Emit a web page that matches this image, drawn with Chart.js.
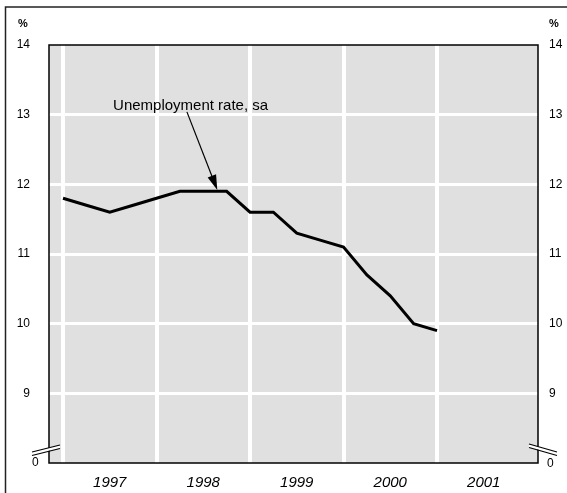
<!DOCTYPE html>
<html>
<head>
<meta charset="utf-8">
<script src="https://cdn.jsdelivr.net/npm/chart.js@4.4.1/dist/chart.umd.min.js"></script>
<style>
html,body{margin:0;padding:0;background:#fff;}
#wrap{width:567px;height:493px;position:relative;}
</style>
</head>
<body>
<div id="wrap"><canvas id="c" width="567" height="493"></canvas></div>
<script>
// Quarter index (0 = start of 1997), unemployment rate (%)
const quarters = [0,1,2,3,4,5,6,7,8,9,10,11,12,13,14,15,16];
const unemployment = [11.8,11.7,11.6,11.7,11.8,11.9,11.9,11.9,11.6,11.6,11.3,11.2,11.1,10.7,10.4,10.0,9.9];
const years = ['1997','1998','1999','2000','2001'];
const yTicks = [8,9,10,11,12,13,14];
const yTickLabels = ['0','9','10','11','12','13','14'];
const seriesLabel = 'Unemployment rate, sa';
const unitLabel = '%';

const FONT = '"Liberation Sans", Arial, sans-serif';

const decor = {
  id: 'decor',
  beforeDraw(chart) {
    const {ctx, chartArea: a} = chart;
    ctx.save();
    ctx.fillStyle = '#e0e0e0';
    ctx.fillRect(a.left, a.top, a.right - a.left, a.bottom - a.top);
    ctx.restore();
  },
  afterDraw(chart) {
    const {ctx, chartArea: a} = chart;
    const xs = chart.scales.x, ys = chart.scales.y;
    ctx.save();
    // outer frame
    ctx.strokeStyle = '#222';
    ctx.lineWidth = 1.5;
    ctx.beginPath();
    ctx.moveTo(5.5, 600);
    ctx.lineTo(5.5, 7);
    ctx.lineTo(600, 7);
    ctx.stroke();
    // plot border
    ctx.strokeStyle = '#000';
    ctx.lineWidth = 1.5;
    ctx.strokeRect(a.left, a.top, a.right - a.left, a.bottom - a.top);
    // unit labels
    ctx.fillStyle = '#000';
    ctx.font = 'bold 11px ' + FONT;
    ctx.textBaseline = 'middle';
    ctx.textAlign = 'left';
    ctx.fillText(unitLabel, 18, 24);
    ctx.fillText(unitLabel, 549, 24);
    // zero labels
    ctx.font = '12px ' + FONT;
    const y0 = ys.getPixelForValue(8);
    ctx.fillText(yTickLabels[0], 32, y0);
    ctx.fillText(yTickLabels[0], 547, y0 + 1);
    // axis breaks
    function brk(x1, y1, x2, y2) {
      ctx.fillStyle = '#fff';
      ctx.beginPath();
      ctx.moveTo(x1, y1); ctx.lineTo(x2, y2); ctx.lineTo(x2, y2 + 3); ctx.lineTo(x1, y1 + 3); ctx.closePath();
      ctx.fill();
      ctx.strokeStyle = '#000';
      ctx.lineWidth = 1.2;
      ctx.beginPath();
      ctx.moveTo(x1, y1); ctx.lineTo(x2, y2);
      ctx.moveTo(x1, y1 + 3.5); ctx.lineTo(x2, y2 + 3.5);
      ctx.stroke();
    }
    brk(32, y0 - 11, 60, y0 - 18);
    brk(529, y0 - 19, 557, y0 - 11);
    // annotation
    ctx.fillStyle = '#000';
    ctx.font = '15px ' + FONT;
    ctx.textAlign = 'left';
    ctx.textBaseline = 'middle';
    const tx = xs.getPixelForValue(2.14), ty = ys.getPixelForValue(13.13);
    ctx.fillText(seriesLabel, tx, ty);
    const sx = xs.getPixelForValue(5.3), sy = ys.getPixelForValue(13.04);
    const ex = xs.getPixelForValue(6.6), ey = ys.getPixelForValue(11.92);
    ctx.strokeStyle = '#000';
    ctx.lineWidth = 1.2;
    const ang = Math.atan2(ey - sy, ex - sx);
    const hl = 15, hw = 4.5;
    const bx = ex - hl * Math.cos(ang), by = ey - hl * Math.sin(ang);
    ctx.beginPath(); ctx.moveTo(sx, sy); ctx.lineTo(bx, by); ctx.stroke();
    ctx.beginPath();
    ctx.moveTo(ex, ey);
    ctx.lineTo(bx + hw * Math.sin(ang), by - hw * Math.cos(ang));
    ctx.lineTo(bx - hw * Math.sin(ang), by + hw * Math.cos(ang));
    ctx.closePath(); ctx.fill();
    ctx.restore();
  }
};

new Chart(document.getElementById('c'), {
  type: 'line',
  data: {
    datasets: [{
      label: seriesLabel,
      data: quarters.map((q, i) => ({x: q, y: unemployment[i]})),
      borderColor: '#000',
      borderWidth: 3,
      pointRadius: 0,
      tension: 0,
      fill: false,
      borderJoinStyle: 'miter'
    }]
  },
  options: {
    responsive: false,
    animation: false,
    devicePixelRatio: 1,
    layout: {padding: {top: 45, left: 0, right: 0, bottom: 0}},
    plugins: {legend: {display: false}, tooltip: {enabled: false}},
    scales: {
      x: {
        type: 'linear',
        min: -0.6, max: 20.32,
        afterBuildTicks(s) { s.ticks = [0,2,4,6,8,10,12,14,16,18,20].map(v => ({value: v})); },
        afterFit(s) { s.height = 30; },
        border: {display: false},
        grid: {
          drawTicks: false,
          lineWidth: 4,
          color: ctx => (ctx.tick && ctx.tick.value % 4 === 0 && ctx.tick.value < 20) ? '#ffffff' : 'rgba(0,0,0,0)'
        },
        ticks: {
          padding: 11,
          maxRotation: 0,
          autoSkip: false,
          color: '#000',
          font: {family: FONT, size: 15, style: 'italic'},
          callback: v => (v % 4 === 2) ? years[(v - 2) / 4] : ''
        }
      },
      y: {
        position: 'left',
        min: 8, max: 14,
        afterBuildTicks(s) { s.ticks = yTicks.map(v => ({value: v})); },
        afterFit(s) { s.width = 49; },
        border: {display: false},
        grid: {
          drawTicks: false,
          lineWidth: 3,
          color: ctx => (ctx.tick && ctx.tick.value > 8 && ctx.tick.value < 14) ? '#ffffff' : 'rgba(0,0,0,0)'
        },
        ticks: {
          padding: 19,
          color: '#000',
          font: {family: FONT, size: 12},
          callback: (v) => v === 8 ? '' : yTickLabels[yTicks.indexOf(v)]
        }
      },
      y2: {
        position: 'right',
        min: 8, max: 14,
        afterBuildTicks(s) { s.ticks = yTicks.map(v => ({value: v})); },
        afterFit(s) { s.width = 29; },
        border: {display: false},
        grid: {display: false, drawTicks: false},
        ticks: {
          padding: 11,
          color: '#000',
          font: {family: FONT, size: 12},
          callback: (v) => v === 8 ? '' : yTickLabels[yTicks.indexOf(v)]
        }
      }
    }
  },
  plugins: [decor]
});
</script>
</body>
</html>
